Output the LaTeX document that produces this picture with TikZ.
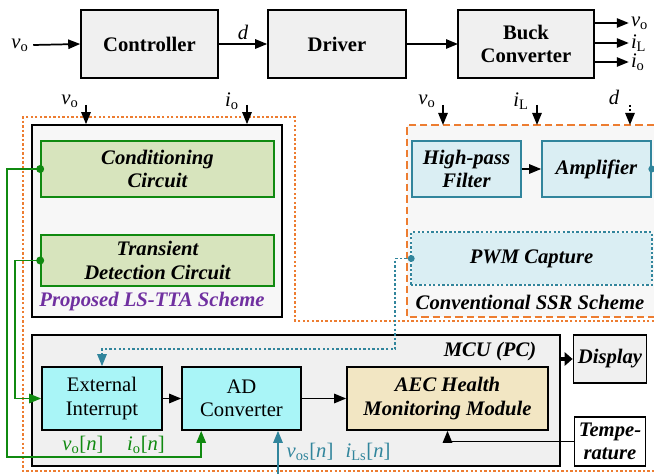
\documentclass[tikz,border=0pt]{standalone}
\usepackage{fontspec}
\setmainfont{Liberation Serif}
\usetikzlibrary{arrows.meta}

\definecolor{boxgray}{HTML}{F0F0F0}
\definecolor{panelgray}{HTML}{F7F7F7}
\definecolor{cgreen}{HTML}{108A10}
\definecolor{lgreen}{HTML}{D7E4BD}
\definecolor{cteal}{HTML}{31859C}
\definecolor{lteal}{HTML}{DAEEF3}
\definecolor{lcyan}{HTML}{A9F5F7}
\definecolor{wheat}{HTML}{F2E6C3}
\definecolor{corange}{HTML}{ED7D31}
\definecolor{cpurple}{HTML}{7030A0}

\newcommand{\sg}[2]{\textit{#1}\textsubscript{#2}}

\begin{document}
\begin{tikzpicture}[x=0.75pt,y=-0.75pt,
  every node/.style={font=\fontsize{15.5}{17.5}\selectfont},
  blk/.style={draw,line width=1.2pt,fill=boxgray,align=center,font=\fontsize{15.5}{17.5}\selectfont\bfseries},
  gcir/.style={draw=cgreen,line width=1.2pt,fill=lgreen,align=center,font=\fontsize{15.5}{17.5}\selectfont\bfseries\itshape},
  tbox/.style={draw=cteal,line width=1.2pt,fill=lteal,align=center,font=\fontsize{15.5}{17.5}\selectfont\bfseries\itshape},
  mbox/.style={draw,line width=1.2pt,fill=lcyan,align=center},
  hbox/.style={draw,line width=1.2pt,fill=wheat,align=center,font=\fontsize{15.5}{17.5}\selectfont\bfseries\itshape},
  arr/.style={line width=1.3pt,-{Triangle[length=9pt,width=7pt]}},
  dotb/.style={line width=1.4pt,dash pattern=on 1.8pt off 1.6pt}
]
  \useasboundingbox (0,0) rectangle (654,474);

  % top loop
  \node (vin) at (20,45) {\sg{v}{o}};
  \node[blk,minimum width=102.75pt,minimum height=51pt] (ctrl) at (149.5,44) {Controller};
  \node[blk,minimum width=103.5pt,minimum height=51pt] (drv) at (337,44) {Driver};
  \node[blk,minimum width=102pt,minimum height=51pt] (buck) at (526,44) {Buck\\Converter};
  \draw[arr] (vin.east) -- (ctrl.west);
  \draw[arr] (ctrl.east) -- node[above,yshift=-1pt] {\textit{d}} (drv.west);
  \draw[arr] (drv.east) -- (buck.east -| 458,0);
  \draw[arr] ([yshift=15.75pt]buck.east) -- ++(34,0) node[right,inner sep=1pt] (ovo) {\sg{v}{o}};
  \draw[arr] ([yshift=0.75pt]buck.east) -- ++(34,0) node[right,inner sep=1pt] (oil) {\sg{i}{L}};
  \draw[arr] ([yshift=-13.5pt]buck.east) -- ++(34,0) node[right,inner sep=1pt] (oio) {\sg{i}{o}};

  % orange boundary
  \draw[corange,dotb] (654,321) -- (295,321) -- (295,117) -- (23,117) -- (23,471) -- (654,471);

  % proposed scheme
  \node[draw,line width=1.2pt,fill=panelgray,minimum width=187.5pt,minimum height=144pt] (ls) at (157,221) {};
  \node[gcir,minimum width=174.75pt,minimum height=42pt] (cond) at (157.5,169) {Conditioning\\Circuit};
  \node[gcir,minimum width=174.75pt,minimum height=38.25pt] (trans) at (157.5,260.5) {Transient\\Detection Circuit};
  \node[text=cpurple,font=\fontsize{15.5}{17.5}\selectfont\bfseries\itshape] (lslbl) at (152,302) {Proposed LS-TTA Scheme};
  \coordinate (lsvo) at (86,105);
  \coordinate (lsio) at (247,105);
  \node at (70,101) {\sg{v}{o}};
  \node at (232,101) {\sg{i}{o}};
  \draw[arr] (lsvo) -- (lsvo |- ls.north);
  \draw[arr] (lsio) -- (lsio |- ls.north);

  % conventional scheme
  \fill[panelgray] (407,125) rectangle (654,317);
  \draw[corange,line width=1.4pt,dash pattern=on 5.5pt off 3pt] (654,125) -- (407,125) -- (407,317) -- (654,317);
  \node[tbox,minimum width=81.75pt,minimum height=42pt] (hpf) at (466.5,169) {High-pass\\Filter};
  \node[tbox,minimum width=81.75pt,minimum height=42pt] (amp) at (596.5,169) {Amplifier};
  \node[tbox,draw=none,minimum width=179.25pt,minimum height=38.25pt] (pwm) at (531.5,258.5) {PWM Capture};
  \draw[cteal,dotb] (pwm.south west) rectangle (pwm.north east);
  \node[font=\fontsize{15.5}{17.5}\selectfont\bfseries\itshape] (ssrlbl) at (530,302) {Conventional SSR Scheme};
  \coordinate (ssvo) at (443,105);
  \coordinate (ssil) at (537,105);
  \coordinate (ssd) at (630,105);
  \node at (427,101) {\sg{v}{o}};
  \node at (521,101) {\sg{i}{L}};
  \node at (614,97) {\textit{d}};
  \draw[arr] (ssvo) -- (ssvo |- 0,125);
  \draw[arr] (ssil) -- (ssil |- 0,125);
  \draw[arr,dash pattern=on 1.5pt off 1.5pt] (ssd) -- (ssd |- 0,125);
  \draw[arr] (hpf) -- (amp);
  \fill[cteal] (amp.east) circle (2.6pt);

  % MCU
  \node[draw,line width=1.2pt,fill=boxgray,minimum width=396pt,minimum height=98.25pt] (mcu) at (296,400.5) {};
  \node[font=\fontsize{15.5}{17.5}\selectfont\bfseries\itshape] (mculbl) at (490,352) {MCU (PC)};
  \node[mbox,minimum width=90pt,minimum height=47.25pt] (ei) at (102,398.5) {External\\Interrupt};
  \node[mbox,minimum width=89.25pt,minimum height=47.25pt] (ad) at (241.5,398.5) {AD\\Converter};
  \node[hbox,minimum width=150.75pt,minimum height=47.25pt] (aec) at (447.5,398.5) {AEC Health\\Monitoring Module};
  \node[text=cgreen] (von) at (83,445) {\sg{v}{o}[\textit{n}]};
  \node[text=cgreen] (ion) at (146,445) {\sg{i}{o}[\textit{n}]};
  \node[text=cteal] (vosn) at (310,452) {\sg{v}{os}[\textit{n}]};
  \node[text=cteal] (ilsn) at (368,452) {\sg{i}{Ls}[\textit{n}]};
  \draw[arr] (ei) -- (ad);
  \draw[arr] (ad) -- (aec);

  \node[blk,font=\fontsize{15.5}{17.5}\selectfont\bfseries\itshape,minimum width=52.5pt,minimum height=36pt] (disp) at (610,359) {Display};
  \node[blk,fill=white,font=\fontsize{15.5}{17.5}\selectfont\bfseries\itshape,minimum width=52.5pt,minimum height=36.75pt] (temp) at (610,441.5) {Tempe-\\rature};
  \draw[line width=3.5pt,-{Triangle[length=6pt,width=10pt]}] (mcu.east |- disp.west) -- (disp.west);
  \draw[arr] (temp.west) -| (aec.south);

  % signal paths into the MCU
  \fill[cgreen] (cond.west) circle (3pt);
  \fill[cgreen] (trans.west) circle (3pt);
  \draw[cgreen,arr] (cond.west) -- ++(-33,0) -- ++(0,288) -| ([xshift=15pt]ad.south west);
  \draw[cgreen,arr] (trans.west) -- ++(-25,0) |- (ei.west);
  \fill[cteal] (pwm.west) circle (2.6pt);
  \draw[cteal,arr,dash pattern=on 1.8pt off 1.6pt] (pwm.west) -- ++(-16,0) -- ++(0,90.5) -| (ei.north);
  \coordinate (vosin) at (278,474);
  \draw[cteal,arr] (vosin) -- (vosin |- ad.south);
\end{tikzpicture}
\end{document}
